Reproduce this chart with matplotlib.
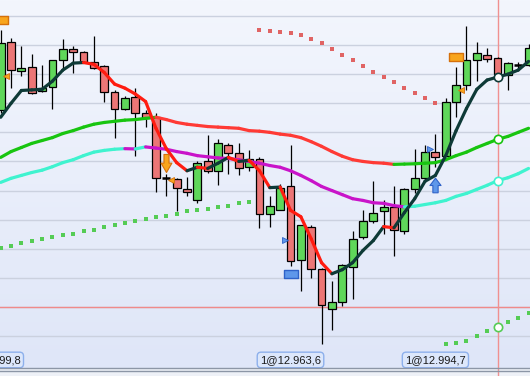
import numpy as np
import matplotlib
matplotlib.use('Agg')
import matplotlib.pyplot as plt
from matplotlib.collections import LineCollection
from matplotlib.colors import LinearSegmentedColormap
from matplotlib.path import Path
from matplotlib.markers import MarkerStyle
from matplotlib.lines import Line2D
from matplotlib.transforms import blended_transform_factory

# candles
opens = [13003.8, 13015.5, 13010.5, 13011.2, 13007.1, 13007.8, 13012.4, 13014.3, 13013.8, 13012.1,
         13011.4, 13006.9, 13004.1, 13006.0, 13003.3, 13002.6, 12992.1, 12991.9, 12990.3, 12988.4,
         12995.0, 12993.4, 12997.9, 12996.4, 12994.0, 12995.5, 12985.9, 12986.7, 12990.7, 12978.1,
         12983.8, 12976.6, 12969.7, 12970.9, 12976.9, 12982.1, 12984.8, 12986.4, 12987.2, 12983.1,
         12990.2, 12992.2, 12996.7, 12996.0, 13005.3, 13008.1, 13012.4, 13013.3, 13012.8, 13009.8,
         13011.6, 13011.6]
highs = [13017.6, 13016.2, 13014.8, 13013.5, 13011.6, 13012.5, 13016.0, 13014.8, 13014.0, 13016.6,
         13011.6, 13007.2, 13006.2, 13007.6, 13003.8, 13003.3, 12992.8, 12992.1, 12992.4, 12995.0,
         12999.5, 12998.8, 12998.1, 12998.1, 12996.9, 12995.7, 12989.1, 12991.2, 12997.9, 12984.1,
         12984.0, 12976.7, 12974.5, 12977.4, 12983.1, 12986.6, 12991.7, 12988.4, 12990.7, 12990.5,
         12997.1, 12997.8, 12999.7, 13005.9, 13011.2, 13018.3, 13015.5, 13014.5, 13012.9, 13012.1,
         13012.1, 13015.2]
lows = [13003.4, 13007.6, 13009.7, 13006.6, 13006.9, 13004.1, 13010.7, 13010.2, 13011.9, 13010.9,
        13005.2, 12999.0, 13003.8, 12995.9, 13000.9, 12989.7, 12989.0, 12986.4, 12989.0, 12987.9,
        12993.1, 12990.9, 12992.9, 12992.6, 12993.4, 12983.6, 12983.8, 12986.6, 12977.1, 12972.8,
        12975.0, 12963.6, 12966.0, 12970.2, 12971.4, 12981.7, 12984.5, 12982.6, 12978.8, 12982.6,
        12989.5, 12991.7, 12994.0, 12995.9, 13002.6, 13007.2, 13008.8, 13012.1, 13009.7, 13007.2,
        13010.7, 13011.4]
closes = [13015.3, 13010.7, 13011.0, 13006.7, 13007.6, 13012.4, 13014.3, 13013.8, 13012.1, 13011.0,
          13006.9, 13004.1, 13005.9, 13003.4, 13002.4, 12992.1, 12992.1, 12990.5, 12989.7, 12994.8,
          12993.4, 12998.1, 12996.4, 12993.8, 12995.5, 12986.0, 12987.4, 12990.5, 12977.9, 12984.0,
          12976.6, 12970.3, 12970.9, 12977.2, 12981.6, 12984.8, 12986.2, 12987.2, 12983.3, 12990.3,
          12992.2, 12996.6, 12995.7, 13005.3, 13008.1, 13012.4, 13013.6, 13012.6, 13010.0, 13011.9,
          13011.6, 13014.5]

# moving averages
fast_ma = [13002.6, 13005.0, 13007.2, 13007.3, 13007.4, 13008.8, 13010.7, 13011.9, 13012.0, 13011.7,
           13010.3, 13008.3, 13007.6, 13006.6, 13005.3, 13000.7, 12997.2, 12994.8, 12993.4, 12994.0,
           12993.8, 12994.7, 12995.7, 12995.0, 12995.2, 12993.4, 12990.5, 12990.6, 12986.6, 12985.5,
           12981.7, 12977.6, 12975.7, 12976.4, 12977.6, 12979.7, 12981.4, 12983.8, 12983.6, 12986.2,
           12988.6, 12991.6, 12992.6, 12996.0, 13000.3, 13004.1, 13007.4, 13009.0, 13009.5, 13010.0,
           13010.7, 13012.2]
slow_ma = [12995.7, 12996.7, 12997.4, 12998.1, 12998.6, 12999.1, 12999.8, 13000.3, 13000.9, 13001.4,
           13001.7, 13001.9, 13002.1, 13002.2, 13002.4, 13002.6, 13002.2, 13001.7, 13001.4, 13001.2,
           13001.0, 13000.9, 13000.8, 13000.7, 13000.3, 13000.2, 13000.0, 12999.7, 12999.5, 12999.1,
           12998.4, 12997.6, 12996.7, 12995.9, 12995.3, 12995.0, 12994.8, 12994.7, 12994.5, 12994.55,
           12994.6, 12994.7, 12994.8, 12995.3, 12996.0, 12996.6, 12997.4, 12998.1, 12998.8, 12999.3,
           13000.0, 13000.7]
mid_ma = [12991.4, 12992.1, 12992.6, 12993.1, 12993.5, 12994.1, 12994.8, 12995.3, 12996.0, 12996.6,
          12996.9, 12997.1, 12997.2, 12997.15, 12997.5, 12997.3, 12997.1, 12996.7, 12996.4, 12996.0,
          12995.8, 12995.6, 12995.5, 12995.3, 12995.0, 12994.7, 12994.3, 12994.0, 12993.4, 12992.6,
          12991.7, 12990.7, 12990.0, 12989.3, 12988.6, 12988.3, 12987.9, 12987.8, 12987.4, 12987.2,
          12987.3, 12987.6, 12987.9, 12988.3, 12989.0, 12989.5, 12990.2, 12990.9, 12991.7, 12992.2,
          12992.9, 12993.8]

# parabolic sar (three legs)
sar_up1 = [12980.2, 12980.5, 12980.9, 12981.3, 12981.6, 12982.0, 12982.3, 12982.6, 12983.0, 12983.3,
           12983.7, 12984.0, 12984.4, 12984.7, 12985.1, 12985.4, 12985.7, 12986.0, 12986.4, 12986.6,
           12986.8, 12987.1, 12987.4, 12987.8, 12988.1]
sar_down = [13017.6, 13017.4, 13017.2, 13017.1, 13016.7, 13016.0, 13015.3, 13014.3, 13013.3, 13012.4,
            13011.4, 13010.3, 13009.5, 13008.6, 13007.6, 13006.7, 13005.9, 13005.0]
sar_up2 = [12963.6, 12963.8, 12964.1, 12965.0, 12965.9, 12966.6, 12967.4, 12968.1, 12969.0]

# trade marks: candle index, price
orange_rect_idx, orange_rect_px = [0, 44], [13019.3, 13012.9]
orange_tri_idx, orange_tri_px = [0.5, 16.45, 44.5], [13009.7, 12991.8, 13007.3]
sell_arrow_idx, sell_arrow_px = [16], [12994.7]
blue_rect_idx, blue_rect_px = [28], [12975.6]
blue_tri_idx, blue_tri_px = [27.45, 41.5], [12981.5, 12997.2]
buy_arrow_idx, buy_arrow_px = [42], [12991.0]

trade_labels = ['1@12.999,8', '1@12.963,6', '1@12.994,7']
trade_label_idx = [-1, 28, 42]
level_line = 12970.0
cursor_idx = 48

x = np.arange(len(opens))

fig = plt.figure(figsize=(5.3, 3.76), dpi=100)
fig.patch.set_facecolor('#eef1f7')
ax = fig.add_axes([0, 8 / 376, 1, 368 / 376])
xmin, xmax = -0.068, 51.14
ymin, ymax = 12959.5, 13022.75
ax.set_xlim(xmin, xmax)
ax.set_ylim(ymin, ymax)
ax.axis('off')

# background gradient
cmap = LinearSegmentedColormap.from_list('bg', ['#dfe6f8', '#f3f6fd'])
ax.imshow(np.linspace(0, 1, 256).reshape(-1, 1), extent=[xmin, xmax, ymin, ymax],
          origin='lower', aspect='auto', cmap=cmap, zorder=0)

for g in np.arange(12965, 13021, 5):
    ax.axhline(g, color='#cbd1df', lw=1.0, zorder=1)
ax.axhline(level_line, color='#f08a8a', lw=1.0, zorder=1)
ax.axvline(cursor_idx, ymin=-0.03, ymax=1, color='#f09090', lw=1.0, zorder=1, clip_on=False)

# candles
for i in range(len(opens)):
    o, h, l, c = opens[i], highs[i], lows[i], closes[i]
    ax.vlines(i, l, h, color='black', lw=0.9, zorder=2)
    if c == o:
        ax.hlines(o, i - 0.38, i + 0.38, color='black', lw=1.8, zorder=3)
        continue
    col = '#5fd75a' if c > o else '#ec7676'
    ax.bar(i, abs(c - o), bottom=min(o, c), width=0.76, color=col,
           edgecolor='black', linewidth=0.9, zorder=3)


def colored_line(values, up, down, lw):
    pts = np.column_stack([x, values])
    segs = np.stack([pts[:-1], pts[1:]], axis=1)
    cols = [up if values[k + 1] >= values[k] else down for k in range(len(values) - 1)]
    ax.add_collection(LineCollection(segs, colors=cols, linewidths=lw,
                                     capstyle='round', joinstyle='round', zorder=4))


colored_line(slow_ma, '#18c510', '#ff3a35', 2.3)
colored_line(mid_ma, '#3ff3cf', '#c914c9', 2.3)
colored_line(fast_ma, '#0e3a37', '#ff1c10', 2.3)

# sar dots
ax.plot(x[:len(sar_up1)], sar_up1, 's', color='#55cc55', ms=3, mew=0, zorder=5)
ax.plot(x[25:25 + len(sar_down)], sar_down, 's', color='#e06464', ms=3, mew=0, zorder=5)
ax.plot(x[43:43 + len(sar_up2)], sar_up2, 's', color='#55cc55', ms=3, mew=0, zorder=5)

# cursor circles
for vals, col in [(fast_ma, '#0e3a37'), (slow_ma, '#18c510'), (mid_ma, '#3ff3cf')]:
    ax.plot(cursor_idx, vals[cursor_idx], 'o', mfc='white', mec=col, ms=6, mew=1.2, zorder=6)
ax.plot(cursor_idx, sar_up2[cursor_idx - 43], 'o', mfc='white', mec='#55cc55', ms=6, mew=1.2, zorder=6)

# trade marks
rect = Path([(-0.5, -0.27), (0.5, -0.27), (0.5, 0.27), (-0.5, 0.27), (-0.5, -0.27)],
            [Path.MOVETO, Path.LINETO, Path.LINETO, Path.LINETO, Path.CLOSEPOLY])
down_arrow = Path([(-0.14, 0.5), (0.14, 0.5), (0.14, 0.02), (0.3, 0.02), (0, -0.5),
                   (-0.3, 0.02), (-0.14, 0.02), (-0.14, 0.5)],
                  [Path.MOVETO] + [Path.LINETO] * 6 + [Path.CLOSEPOLY])
up_arrow = Path([(-0.18, -0.5), (0.18, -0.5), (0.18, 0.0), (0.38, 0.0), (0, 0.5),
                 (-0.38, 0.0), (-0.18, 0.0), (-0.18, -0.5)],
                [Path.MOVETO] + [Path.LINETO] * 6 + [Path.CLOSEPOLY])

orange, orange_ec = '#f8a51d', '#d5700c'
blue, blue_ec = '#5e97ea', '#2f62c8'
ax.plot(orange_rect_idx, orange_rect_px, ls='none', marker=MarkerStyle(rect), ms=9.5,
        mfc=orange, mec=orange_ec, mew=1, zorder=7)
ax.plot(orange_tri_idx, orange_tri_px, ls='none', marker='<', ms=5, mfc=orange, mec=orange_ec,
        mew=0.6, zorder=7)
ax.plot(sell_arrow_idx, sell_arrow_px, ls='none', marker=MarkerStyle(down_arrow), ms=13,
        mfc=orange, mec=orange_ec, mew=0.8, zorder=7)
ax.plot(blue_rect_idx, blue_rect_px, ls='none', marker=MarkerStyle(rect), ms=9.5,
        mfc=blue, mec=blue_ec, mew=1, zorder=7)
ax.plot(blue_tri_idx, blue_tri_px, ls='none', marker='>', ms=5, mfc=blue, mec=blue_ec,
        mew=0.6, zorder=7)
ax.plot(buy_arrow_idx, buy_arrow_px, ls='none', marker=MarkerStyle(up_arrow), ms=10.5,
        mfc=blue, mec=blue_ec, mew=0.8, zorder=7)

# trade labels along the bottom
tr = blended_transform_factory(ax.transData, ax.transAxes)
for idx, txt in zip(trade_label_idx, trade_labels):
    ax.annotate(txt, xy=(idx, 0), xycoords=tr, xytext=(0, 2.2), textcoords='offset points',
                ha='center', va='bottom', fontsize=8, family='Liberation Sans', color='#1a1a1a',
                bbox=dict(boxstyle='round,pad=0.25,rounding_size=0.35', fc='#dce7fb',
                          ec='#8db0ec', lw=1), zorder=8, annotation_clip=False)

# bottom frame lines
fig.add_artist(Line2D([0, 1], [8 / 376, 8 / 376], transform=fig.transFigure, color='#8c96a6', lw=1))
fig.add_artist(Line2D([0, 1], [5 / 376, 5 / 376], transform=fig.transFigure, color='#8c96a6', lw=1))

fig.savefig('out.png', dpi=100)
